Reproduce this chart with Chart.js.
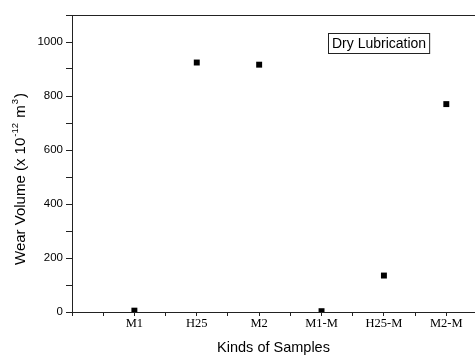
<!DOCTYPE html>
<html>
<head>
<meta charset="utf-8">
<script src="https://cdn.jsdelivr.net/npm/chart.js@4/dist/chart.umd.min.js"></script>
<style>
  html, body { margin: 0; padding: 0; background: #fff; }
  #wrap { width: 475px; height: 358px; }
</style>
</head>
<body>
<div id="wrap"><canvas id="chart" width="475" height="358"></canvas></div>
<script>
// data
const samples = ["M1", "H25", "M2", "M1-M", "H25-M", "M2-M"];
const wearVolume = [5, 924, 916, 3, 135, 770];
const yTicks = [0, 100, 200, 300, 400, 500, 600, 700, 800, 900, 1000, 1100];
const xTicks = [0, 0.5, 1, 1.5, 2, 2.5, 3, 3.5, 4, 4.5, 5, 5.5, 6];
const boxLabel = "Dry Lubrication";

const points = samples.map((s, i) => ({ x: i + 1, y: wearVolume[i] }));

const SANS = "'Liberation Sans', Arial, sans-serif";

// top frame line, y title with real superscripts, and the text box
const framePlugin = {
  id: "frame",
  afterDraw(chart) {
    const { ctx, chartArea } = chart;
    ctx.save();
    ctx.strokeStyle = "#222";
    ctx.lineWidth = 1;
    ctx.beginPath();
    ctx.moveTo(chartArea.left, chartArea.top + 0.5);
    ctx.lineTo(chart.width, chartArea.top + 0.5);
    ctx.stroke();

    // y axis title: "Wear Volume (x 10^-12 m^3)"
    const parts = [
      ["Wear Volume (x 10", 0],
      ["-12", 1],
      [" m", 0],
      ["3", 1],
      [")", 0],
    ];
    ctx.save();
    ctx.translate(25, 265);
    ctx.rotate(-Math.PI / 2);
    ctx.fillStyle = "#000";
    ctx.textBaseline = "alphabetic";
    let cx = 0;
    parts.forEach(([t, sup]) => {
      ctx.font = sup ? "9.5px " + SANS : "15px " + SANS;
      if (sup) cx += 1;
      ctx.fillText(t, cx, sup ? -7 : 0);
      cx += ctx.measureText(t).width;
      if (sup) cx += 1;
    });
    ctx.restore();

    ctx.font = "14px " + SANS;
    ctx.fillStyle = "#000";
    ctx.textBaseline = "middle";
    const w = ctx.measureText(boxLabel).width;
    const bx = 328, by = 33, bh = 20;
    ctx.strokeRect(bx + 0.5, by + 0.5, w + 7, bh);
    ctx.fillText(boxLabel, bx + 4, by + bh / 2 + 1);
    ctx.restore();
  },
};

new Chart(document.getElementById("chart"), {
  type: "scatter",
  data: {
    datasets: [
      {
        label: "Wear Volume",
        data: points,
        pointStyle: "rect",
        pointRadius: 4.2,
        pointBorderWidth: 0,
        backgroundColor: "#000",
        borderColor: "#000",
      },
    ],
  },
  options: {
    responsive: false,
    animation: false,
    layout: { autoPadding: false, padding: { top: 15, right: 0, left: 0, bottom: 0 } },
    plugins: {
      legend: { display: false },
      tooltip: { enabled: false },
    },
    scales: {
      x: {
        type: "linear",
        min: 0,
        max: 6.46,
        afterBuildTicks: (scale) => {
          scale.ticks = xTicks.map((v) => ({ value: v }));
        },
        afterFit: (scale) => {
          scale.height = 46;
          scale.paddingLeft = 0;
          scale.paddingRight = 0;
        },
        grid: {
          drawOnChartArea: false,
          drawTicks: true,
          tickLength: 4,
          tickColor: "#222",
        },
        border: { color: "#222", width: 1 },
        ticks: {
          padding: 0,
          autoSkip: false,
          maxRotation: 0,
          color: "#000",
          font: { family: "'Liberation Serif', 'Times New Roman', serif", size: 12.5 },
          callback: (v) => (Number.isInteger(v) && v >= 1 ? samples[v - 1] : ""),
        },
        title: {
          display: true,
          text: "Kinds of Samples",
          color: "#000",
          font: { family: SANS, size: 14.5 },
          padding: { top: 0, bottom: 1 },
        },
      },
      y: {
        min: 0,
        max: 1100,
        afterBuildTicks: (scale) => {
          scale.ticks = yTicks.map((v) => ({ value: v }));
        },
        afterFit: (scale) => {
          scale.width = 72;
          scale.paddingTop = 0;
          scale.paddingBottom = 0;
        },
        grid: {
          drawOnChartArea: false,
          drawTicks: true,
          tickLength: 6,
          tickColor: "#222",
        },
        border: { color: "#222", width: 1 },
        ticks: {
          padding: 3,
          color: "#000",
          font: { family: SANS, size: 11.5 },
          callback: (v) => (v % 200 === 0 && v <= 1000 ? String(v) : ""),
        },
      },
    },
  },
  plugins: [framePlugin],
});
</script>
</body>
</html>
